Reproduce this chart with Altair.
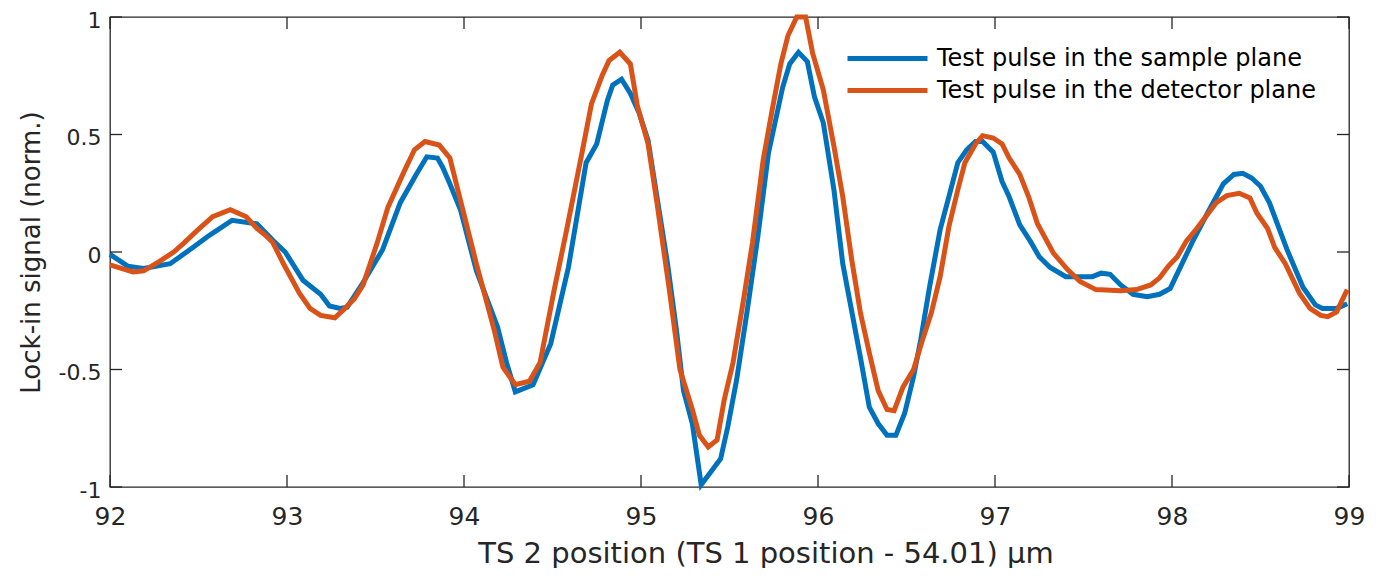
import altair as alt
import pandas as pd

# Series 1: Test pulse in the sample plane
sample_x = [92.00, 92.10, 92.19, 92.34, 92.47, 92.55, 92.60, 92.69, 92.83, 92.92, 92.99,
            93.09, 93.19, 93.24, 93.30, 93.34, 93.43, 93.54, 93.64, 93.73, 93.79, 93.85,
            93.88, 93.92, 93.98, 94.07, 94.19, 94.24, 94.29, 94.39, 94.49, 94.59, 94.69,
            94.75, 94.81, 94.84, 94.89, 94.94, 94.99, 95.04, 95.09, 95.15, 95.20, 95.24,
            95.29, 95.34, 95.39, 95.45, 95.49, 95.54, 95.60, 95.66, 95.72, 95.80, 95.84,
            95.89, 95.94, 95.98, 96.03, 96.09, 96.14, 96.19, 96.24, 96.29, 96.34, 96.39,
            96.44, 96.49, 96.54, 96.58, 96.63, 96.69, 96.75, 96.79, 96.84, 96.89, 96.93,
            96.99, 97.04, 97.08, 97.14, 97.20, 97.25, 97.31, 97.40, 97.48, 97.55, 97.60,
            97.65, 97.71, 97.78, 97.86, 97.93, 97.99, 98.05, 98.12, 98.20, 98.29, 98.35,
            98.40, 98.45, 98.50, 98.55, 98.65, 98.74, 98.81, 98.85, 98.93, 98.99]
sample_y = [-0.01, -0.06, -0.07, -0.05, 0.02, 0.065, 0.09, 0.135, 0.12, 0.05, 0.0,
            -0.12, -0.18, -0.23, -0.24, -0.235, -0.13, 0.01, 0.21, 0.33, 0.405, 0.40,
            0.36, 0.29, 0.18, -0.08, -0.32, -0.47, -0.595, -0.565, -0.39, -0.065, 0.38,
            0.46, 0.645, 0.71, 0.735, 0.675, 0.59, 0.475, 0.235, -0.05, -0.33, -0.59,
            -0.73, -0.99, -0.94, -0.88, -0.745, -0.545, -0.25, 0.065, 0.42, 0.70, 0.80,
            0.85, 0.81, 0.66, 0.55, 0.265, -0.05, -0.25, -0.45, -0.66, -0.73, -0.78,
            -0.78, -0.685, -0.53, -0.375, -0.15, 0.095, 0.265, 0.38, 0.435, 0.47, 0.47,
            0.425, 0.30, 0.235, 0.115, 0.045, -0.02, -0.065, -0.105, -0.105, -0.105, -0.09,
            -0.095, -0.14, -0.18, -0.19, -0.18, -0.155, -0.06, 0.05, 0.165, 0.29, 0.33,
            0.335, 0.315, 0.28, 0.21, 0.01, -0.15, -0.225, -0.24, -0.24, -0.22]

# Series 2: Test pulse in the detector plane
detector_x = [92.00, 92.13, 92.19, 92.28, 92.36, 92.42, 92.49, 92.58, 92.68, 92.77, 92.83,
              92.88, 92.92, 92.98, 93.07, 93.13, 93.19, 93.27, 93.32, 93.38, 93.43, 93.51,
              93.57, 93.66, 93.72, 93.78, 93.86, 93.92, 93.98, 94.07, 94.17, 94.22, 94.29,
              94.37, 94.43, 94.51, 94.58, 94.67, 94.72, 94.78, 94.82, 94.88, 94.94, 94.98,
              95.04, 95.09, 95.16, 95.22, 95.29, 95.33, 95.38, 95.43, 95.47, 95.52, 95.58,
              95.63, 95.69, 95.74, 95.79, 95.83, 95.88, 95.93, 95.97, 96.03, 96.09, 96.14,
              96.19, 96.24, 96.29, 96.34, 96.39, 96.43, 96.48, 96.54, 96.59, 96.64, 96.69,
              96.74, 96.79, 96.83, 96.89, 96.93, 96.99, 97.04, 97.08, 97.14, 97.19, 97.24,
              97.33, 97.41, 97.48, 97.57, 97.71, 97.80, 97.88, 97.93, 97.98, 98.03, 98.08,
              98.14, 98.20, 98.25, 98.31, 98.38, 98.44, 98.48, 98.54, 98.58, 98.64, 98.72,
              98.78, 98.84, 98.88, 98.93, 98.99]
detector_y = [-0.055, -0.085, -0.08, -0.04, 0.0, 0.04, 0.09, 0.15, 0.18, 0.15, 0.10,
              0.07, 0.04, -0.05, -0.175, -0.24, -0.27, -0.28, -0.245, -0.20, -0.14, 0.04,
              0.19, 0.34, 0.435, 0.47, 0.455, 0.40, 0.22, -0.05, -0.33, -0.49, -0.565,
              -0.55, -0.47, -0.16, 0.095, 0.435, 0.63, 0.75, 0.815, 0.85, 0.80, 0.62,
              0.46, 0.21, -0.16, -0.50, -0.67, -0.78, -0.83, -0.80, -0.63, -0.47, -0.20,
              0.04, 0.39, 0.60, 0.80, 0.92, 1.0, 1.0, 0.845, 0.69, 0.45, 0.235,
              -0.03, -0.26, -0.43, -0.59, -0.67, -0.675, -0.575, -0.50, -0.375, -0.26, -0.105,
              0.11, 0.265, 0.38, 0.46, 0.495, 0.485, 0.46, 0.40, 0.33, 0.235, 0.12,
              -0.005, -0.075, -0.125, -0.16, -0.165, -0.16, -0.14, -0.11, -0.06, -0.02, 0.045,
              0.10, 0.16, 0.21, 0.24, 0.25, 0.23, 0.165, 0.10, 0.02, -0.05, -0.175,
              -0.24, -0.27, -0.275, -0.255, -0.16]

series_names = ["Test pulse in the sample plane", "Test pulse in the detector plane"]
series_colors = ["#0072BD", "#D95319"]
x_ticks = [92, 93, 94, 95, 96, 97, 98, 99]
y_ticks = [-1, -0.5, 0, 0.5, 1]

df = pd.concat([
    pd.DataFrame({"x": sample_x, "y": sample_y, "series": series_names[0], "k": 0}),
    pd.DataFrame({"x": detector_x, "y": detector_y, "series": series_names[1], "k": 1}),
], ignore_index=True)

W, H = 1239, 470
FONT = "DejaVu Sans"
AXC = "#262626"
TICK = 12

xscale = alt.Scale(domain=[92, 99], nice=False, zero=False)
yscale = alt.Scale(domain=[-1, 1], nice=False, zero=False)

lines = alt.Chart(df).mark_line(strokeWidth=5, clip=False).encode(
    x=alt.X("x:Q", scale=xscale,
            axis=alt.Axis(values=x_ticks, format="d",
                          title="TS 2 position (TS 1 position - 54.01) µm",
                          domain=False, ticks=False, grid=False, labelFont=FONT,
                          labelFontSize=25, labelColor=AXC, labelPadding=17,
                          titleFont=FONT, titleFontSize=29, titleFontWeight="normal",
                          titleColor=AXC, titlePadding=10, titleX=W / 2 + 36,
                          labelFlush=False)),
    y=alt.Y("y:Q", scale=yscale,
            axis=alt.Axis(values=y_ticks, title="Lock-in signal (norm.)",
                          domain=False, ticks=False, grid=False, labelFont=FONT,
                          labelFontSize=22, labelColor=AXC, labelPadding=9,
                          labelOffset=3, labelExpr="'' + datum.value",
                          titleFont=FONT, titleFontSize=26, titleFontWeight="normal",
                          titleColor=AXC, titlePadding=14, labelFlush=False)),
    color=alt.Color("series:N",
                    scale=alt.Scale(domain=series_names, range=series_colors),
                    legend=alt.Legend(title=None, orient="none", legendX=765, legendY=29,
                                      symbolType="M-4,0H4", symbolSize=400,
                                      symbolStrokeWidth=5, symbolFillColor="transparent",
                                      labelFont=FONT,
                                      labelFontSize=24, labelColor="#000000",
                                      labelOffset=37, rowPadding=7, labelLimit=0)),
    order=alt.Order("x:Q"),
    detail="k:N",
)

xt_df = pd.DataFrame({"v": x_ticks})
yt_df = pd.DataFrame({"v": y_ticks})

rule_style = dict(color=AXC, strokeWidth=1.3)
xt_bottom = alt.Chart(xt_df).mark_rule(**rule_style).encode(
    x=alt.X("v:Q", scale=xscale), y=alt.value(H), y2=alt.value(H - TICK))
xt_top = alt.Chart(xt_df).mark_rule(**rule_style).encode(
    x=alt.X("v:Q", scale=xscale), y=alt.value(0), y2=alt.value(TICK))
yt_left = alt.Chart(yt_df).mark_rule(**rule_style).encode(
    y=alt.Y("v:Q", scale=yscale), x=alt.value(0), x2=alt.value(TICK))
yt_right = alt.Chart(yt_df).mark_rule(**rule_style).encode(
    y=alt.Y("v:Q", scale=yscale), x=alt.value(W), x2=alt.value(W - TICK))

chart = alt.layer(lines, xt_bottom, xt_top, yt_left, yt_right).properties(
    width=W, height=H,
    autosize=alt.AutoSizeParams(type="none"),
    padding={"left": 102, "top": 9, "right": 28, "bottom": 81},
).configure(background="white").configure_view(stroke=AXC, strokeWidth=1.3)

chart.save("out.html", embed_options={"renderer": "svg", "actions": False})
